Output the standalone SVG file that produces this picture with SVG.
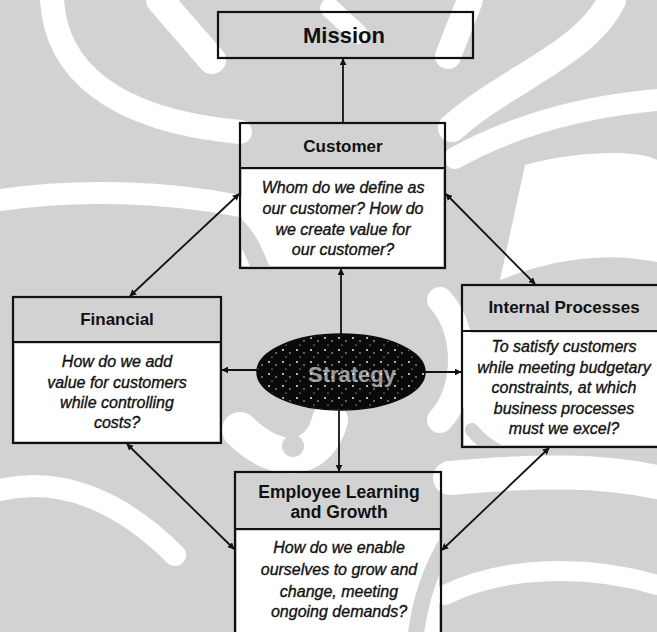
<svg xmlns="http://www.w3.org/2000/svg" width="657" height="632" viewBox="0 0 657 632">
  <defs>
    <style>
      .box { fill: none; stroke: #111; stroke-width: 2.2; }
      .head { font-family: "Liberation Sans", Arial, sans-serif; font-weight: bold; font-size: 17px; fill: #111; text-anchor: middle; }
      .body { font-family: "Liberation Sans", Arial, sans-serif; font-style: italic; font-size: 16px; fill: #111; stroke: #111; stroke-width: 0.35; text-anchor: middle; }
      .link { fill: none; stroke: #111; stroke-width: 1.8; }
      .band { fill: none; stroke: #fff; stroke-linecap: round; }
      .shade { fill: none; stroke: #d2d2d2; stroke-linecap: round; }
      .glow { fill: #fff; }
    </style>
    <marker id="tip" viewBox="0 0 10 10" refX="9" refY="5" markerWidth="7" markerHeight="7" markerUnits="userSpaceOnUse" orient="auto-start-reverse">
      <path d="M0,0 L10,5 L0,10 z" fill="#111"/>
    </marker>
    <pattern id="speck" width="14" height="12" patternUnits="userSpaceOnUse">
      <rect width="14" height="12" fill="#0a0a0a"/>
      <circle cx="3" cy="2" r="0.9" fill="#fff"/>
      <circle cx="10" cy="5" r="0.7" fill="#fff"/>
      <circle cx="6" cy="9" r="0.6" fill="#fff"/>
    </pattern>
  </defs>

  <!-- faint watermark backdrop -->
  <g id="backdrop">
    <rect width="657" height="632" fill="#d2d2d2"/>
    <rect class="glow" x="242" y="170" width="201" height="96"/>
    <rect class="glow" x="15" y="344" width="204" height="97"/>
    <rect class="glow" x="464" y="333" width="193" height="112"/>
    <rect class="glow" x="237" y="531" width="202" height="101"/>
    <path class="shade" stroke-width="18" d="M236 226 C250 240 255 255 262 272"/>
    <path class="shade" stroke-width="16" d="M448 540 C430 570 420 600 415 640"/>
    <path class="shade" stroke-width="14" d="M472 430 C480 440 488 446 500 452"/>
    <path class="band" stroke-width="24" d="M52 0 C56 68 110 120 240 132"/>
    <path class="band" stroke-width="22" d="M0 200 C80 188 170 192 240 206"/>
    <path class="band" stroke-width="28" d="M160 0 L212 60"/>
    <path class="band" stroke-width="20" d="M330 8 L358 34"/>
    <path class="band" stroke-width="26" d="M470 0 L448 56"/>
    <path class="band" stroke-width="28" d="M612 0 C585 55 505 80 452 128"/>
    <path class="band" stroke-width="22" d="M455 158 C520 122 590 106 657 100"/>
    <path d="M525 165 C580 150 640 150 657 160 L657 262 C600 250 545 262 500 280 Z" fill="#fff"/>
    <path class="band" stroke-width="36" d="M240 430 C280 470 320 460 330 420"/>
    <path class="band" stroke-width="22" d="M0 490 C60 476 120 500 175 555"/>
    <path class="band" stroke-width="26" d="M440 300 C468 330 468 390 440 420"/>
    <path class="band" stroke-width="34" d="M450 478 C540 470 600 470 657 482"/>
    <path class="band" stroke-width="20" d="M445 595 C505 565 590 565 657 585"/>
    <circle cx="293" cy="446" r="11" fill="#d2d2d2"/>
  </g>

  <!-- connectors -->
  <g id="connectors">
    <line class="link" x1="343" y1="123" x2="343" y2="59" marker-end="url(#tip)"/>
    <line class="link" x1="341" y1="335" x2="341" y2="269" marker-end="url(#tip)"/>
    <line class="link" x1="339" y1="410" x2="339" y2="471" marker-end="url(#tip)"/>
    <line class="link" x1="258" y1="370" x2="222" y2="370" marker-end="url(#tip)"/>
    <line class="link" x1="424" y1="372" x2="461" y2="372" marker-end="url(#tip)"/>
    <line class="link" x1="130" y1="296" x2="239" y2="194" marker-start="url(#tip)" marker-end="url(#tip)"/>
    <line class="link" x1="446" y1="194" x2="535" y2="284" marker-start="url(#tip)" marker-end="url(#tip)"/>
    <line class="link" x1="549" y1="448" x2="442" y2="550" marker-start="url(#tip)" marker-end="url(#tip)"/>
    <line class="link" x1="127" y1="444" x2="234" y2="549" marker-start="url(#tip)" marker-end="url(#tip)"/>
  </g>

  <g id="mission">
    <rect class="box" x="218" y="12" width="255" height="46"/>
    <text class="head" x="344" y="43" style="font-size:22px">Mission</text>
  </g>

  <g id="customer">
    <rect class="box" x="240" y="123" width="205" height="145"/>
    <line class="box" x1="240" y1="168" x2="445" y2="168"/>
    <text class="head" x="343" y="152">Customer</text>
    <text class="body" x="343" y="193">Whom do we define as</text>
    <text class="body" x="343" y="214">our customer? How do</text>
    <text class="body" x="343" y="234.5">we create value for</text>
    <text class="body" x="343" y="255">our customer?</text>
  </g>

  <g id="financial">
    <rect class="box" x="13" y="297" width="208" height="146"/>
    <line class="box" x1="13" y1="342" x2="221" y2="342"/>
    <text class="head" x="117" y="325">Financial</text>
    <text class="body" x="117" y="367">How do we add</text>
    <text class="body" x="117" y="388">value for customers</text>
    <text class="body" x="117" y="408">while controlling</text>
    <text class="body" x="117" y="428">costs?</text>
  </g>

  <g id="internal">
    <rect class="box" x="462" y="285" width="205" height="162"/>
    <line class="box" x1="462" y1="331" x2="667" y2="331"/>
    <text class="head" x="564" y="313">Internal Processes</text>
    <text class="body" x="564" y="352">To satisfy customers</text>
    <text class="body" x="564" y="373">while meeting budgetary</text>
    <text class="body" x="564" y="393">constraints, at which</text>
    <text class="body" x="564" y="414">business processes</text>
    <text class="body" x="564" y="434">must we excel?</text>
  </g>

  <g id="employee">
    <rect class="box" x="235" y="472" width="206" height="175"/>
    <line class="box" x1="235" y1="529" x2="441" y2="529"/>
    <text class="head" x="339" y="498" style="font-size:17.5px">Employee Learning</text>
    <text class="head" x="339" y="518" style="font-size:17.5px">and Growth</text>
    <text class="body" x="339" y="553">How do we enable</text>
    <text class="body" x="339" y="575">ourselves to grow and</text>
    <text class="body" x="339" y="597">change, meeting</text>
    <text class="body" x="339" y="617">ongoing demands?</text>
  </g>

  <g id="strategy">
    <ellipse cx="341" cy="372" rx="84" ry="38" fill="url(#speck)" stroke="#0a0a0a" stroke-width="1.5"/>
    <text x="352" y="382" style="font-family:'Liberation Sans',Arial,sans-serif;font-weight:bold;font-size:22px;fill:#fff;text-anchor:middle;opacity:0.6">Strategy</text>
  </g>
</svg>
